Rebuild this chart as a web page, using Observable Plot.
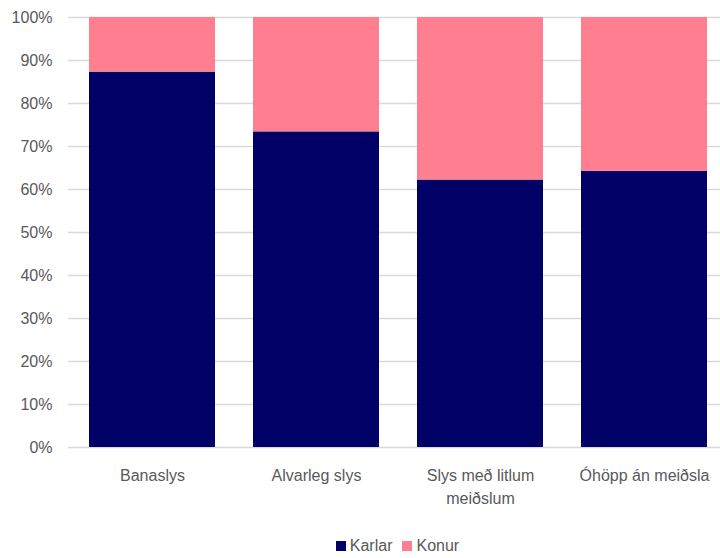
<!DOCTYPE html>
<html>
<head>
<meta charset="utf-8">
<script src="https://cdn.jsdelivr.net/npm/d3@7"></script>
<script src="https://cdn.jsdelivr.net/npm/@observablehq/plot@0.6"></script>
<style>
  body { margin: 0; background: #fff; font-family: "Liberation Sans", Arial, sans-serif; }
  #chart svg { display: block; }
  .legend { display: flex; justify-content: center; align-items: center; padding-left: 75px; width: 645px; height: 30px; font-size: 16px; color: #595959; margin-top: 6px; }
  .legend span.sw { display: inline-block; width: 10px; height: 10px; margin-right: 4px; }
  .legend .item { display: flex; align-items: center; margin: 0 5px; }
</style>
</head>
<body>
<div id="chart"></div>
<div class="legend">
  <div class="item"><span class="sw" style="background:#000066"></span>Karlar</div>
  <div class="item"><span class="sw" style="background:#FF7F91"></span>Konur</div>
</div>
<script>
const categories = ["Banaslys", "Alvarleg slys", "Slys með litlum\nmeiðslum", "Óhöpp án meiðsla"];
const seriesNames = ["Karlar", "Konur"];
const karlar = [87.3, 73.4, 62.2, 64.2];
const konur = [12.7, 26.6, 37.8, 35.8];
const yTicks = [0, 10, 20, 30, 40, 50, 60, 70, 80, 90, 100];
const colors = ["#000066", "#FF7F91"];

const data = [];
categories.forEach((c, i) => {
  data.push({cat: c, series: "Karlar", value: karlar[i]});
  data.push({cat: c, series: "Konur", value: konur[i]});
});

const chart = Plot.plot({
  width: 720,
  height: 525,
  marginTop: 17,
  marginBottom: 78,
  marginLeft: 68,
  marginRight: 0,
  style: {fontFamily: "'Liberation Sans', Arial, sans-serif", fontSize: "16px", color: "#595959", background: "#fff"},
  x: {domain: categories, range: [68, 727], paddingInner: 0.233, paddingOuter: 0.1165, label: null},
  y: {domain: [0, 100], label: null},
  color: {domain: seriesNames, range: colors},
  marks: [
    Plot.ruleY(yTicks, {stroke: "#d9d9d9", strokeWidth: 1.3}),
    Plot.barY(data, {x: "cat", y: "value", fill: "series", order: seriesNames}),
    Plot.axisY(yTicks, {tickSize: 0, tickPadding: 16, tickFormat: d => d + "%", label: null, fill: "#595959"}),
    Plot.axisX({tickSize: 0, tickPadding: 17, label: null, fill: "#595959", lineHeight: 1.45})
  ]
});
document.getElementById("chart").appendChild(chart);
</script>
</body>
</html>
